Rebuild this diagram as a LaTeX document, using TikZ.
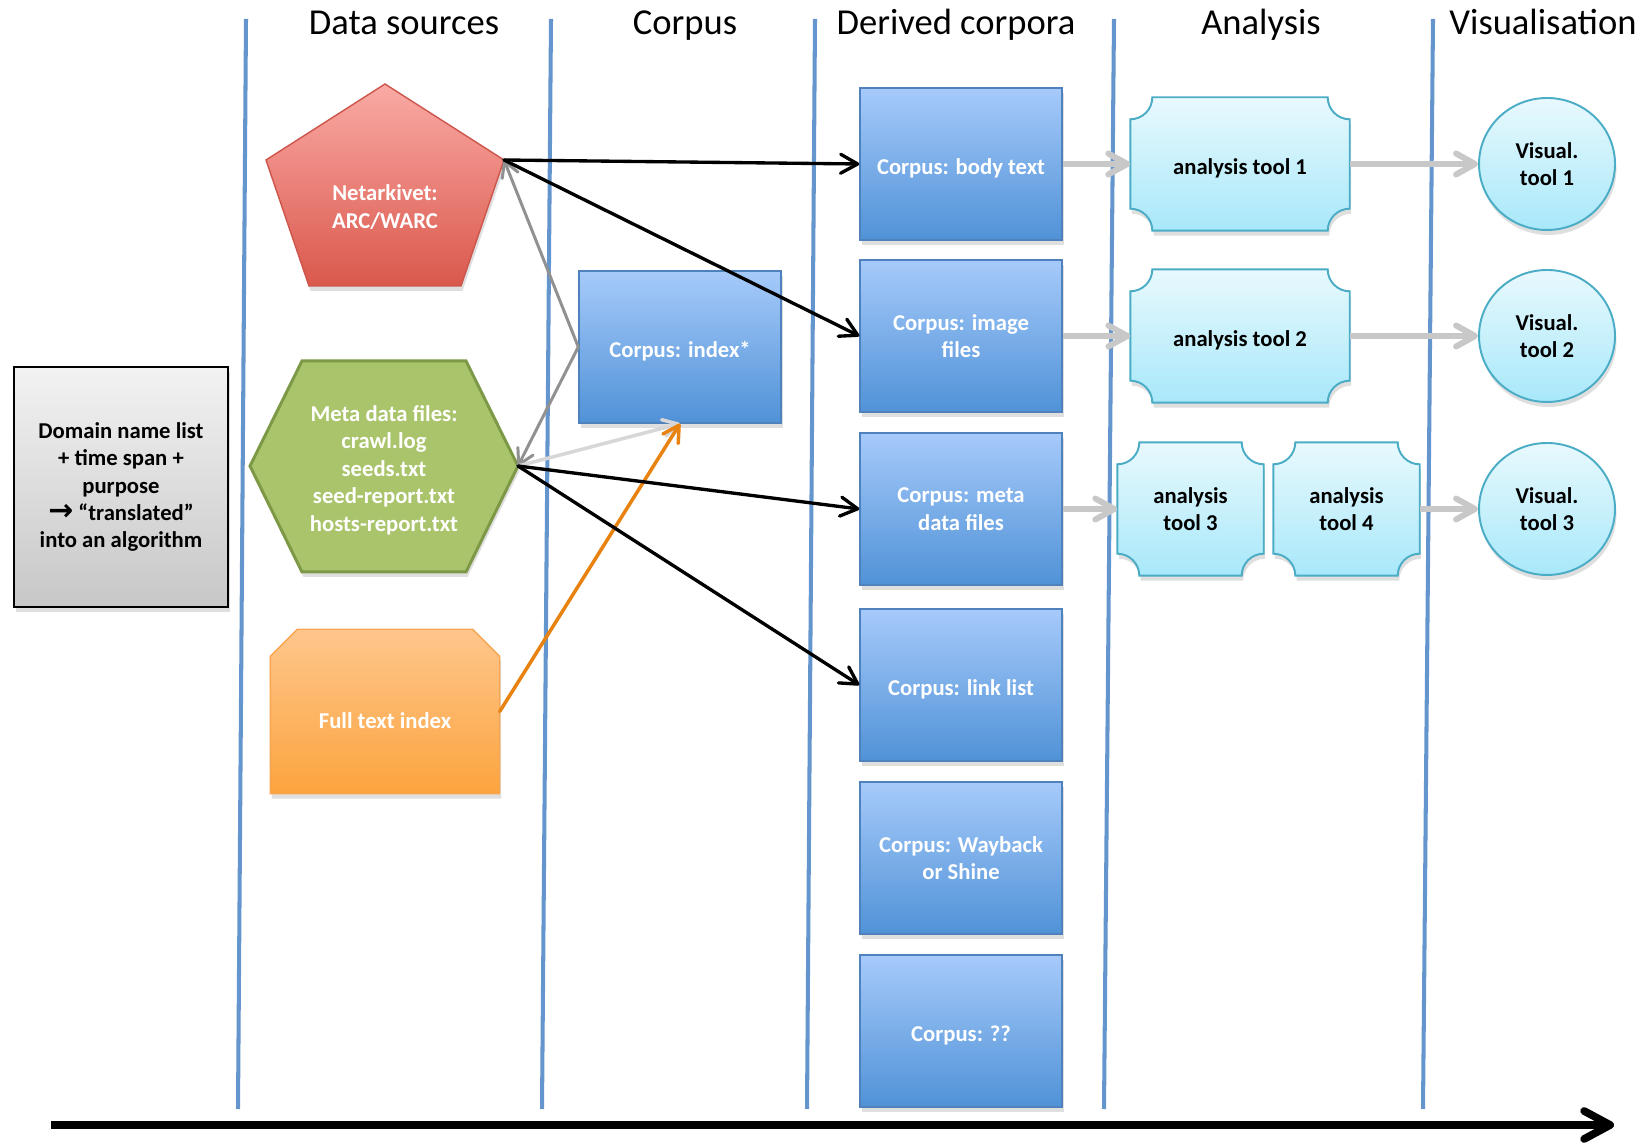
\documentclass[tikz,border=0pt]{standalone}
\usepackage{fontspec}
\setmainfont{Carlito}
\newfontfamily\arrowglyphs{DejaVu Sans}
\usepackage{tikz}
\usetikzlibrary{shapes.geometric,arrows.meta,shadows,backgrounds}

\definecolor{laneblue}{RGB}{100,150,205}
\definecolor{corpustop}{RGB}{166,202,250}
\definecolor{corpusbot}{RGB}{80,146,215}
\definecolor{corpusline}{RGB}{79,129,189}
\definecolor{nettop}{RGB}{250,170,165}
\definecolor{netbot}{RGB}{218,88,76}
\definecolor{netline}{RGB}{205,85,75}
\definecolor{metafill}{RGB}{170,196,108}
\definecolor{metaline}{RGB}{125,152,70}
\definecolor{ftitop}{RGB}{254,198,140}
\definecolor{ftibot}{RGB}{252,164,62}
\definecolor{ftiline}{RGB}{247,165,80}
\definecolor{tooltop}{RGB}{232,249,253}
\definecolor{toolbot}{RGB}{168,232,250}
\definecolor{toolline}{RGB}{75,172,198}
\definecolor{flowgray}{RGB}{200,200,200}
\definecolor{indexgray}{RGB}{145,145,145}
\definecolor{palegray}{RGB}{215,215,215}
\definecolor{ftiorange}{RGB}{232,130,16}

\begin{document}
\begin{tikzpicture}[
    boxfont/.style={font=\fontsize{6.45}{7.8}\selectfont\bfseries},
    lift/.style={execute at begin node={\rule{0pt}{#1}}},
    lift/.default=7.2pt,
    lane_title/.style={anchor=base, font=\fontsize{10.4}{12}\selectfont},
    lane/.style={draw=laneblue, line width=1.15pt},
    soft_shadow/.style={drop shadow={opacity=0.25, shadow xshift=0.15mm, shadow yshift=-0.5mm}},
    corpus/.style={rectangle, boxfont, lift, text=white, align=center, draw=corpusline, line width=0.4pt, top color=corpustop, bottom color=corpusbot, minimum width=2.02cm, minimum height=1.52cm, inner sep=0pt, soft_shadow},
    source_text/.style={boxfont, text=white, align=center, inner sep=0pt},
    net_shape/.style={draw=netline, line width=0.4pt, top color=nettop, bottom color=netbot, soft_shadow},
    meta_shape/.style={draw=metaline, line width=0.85pt, fill=metafill, soft_shadow},
    fulltext/.style={rectangle, boxfont, lift=9.7pt, text=white, minimum width=2.28cm, minimum height=1.63cm, inner sep=0pt},
    fti_shape/.style={draw=ftiline, line width=0.4pt, top color=ftitop, bottom color=ftibot, soft_shadow},
    domain_box/.style={rectangle, boxfont, lift, align=center, draw=black, line width=0.55pt, top color=black!5, bottom color=black!22, minimum width=2.14cm, minimum height=2.40cm, inner sep=0pt, soft_shadow},
    tool/.style={rectangle, boxfont, lift, align=center, minimum width=2.18cm, minimum height=1.32cm, inner sep=0pt},
    plaque/.style={draw=toolline, line width=0.55pt, top color=tooltop, bottom color=toolbot, soft_shadow},
    visual/.style={ellipse, boxfont, lift, align=center, draw=toolline, line width=0.55pt, top color=tooltop, bottom color=toolbot, minimum width=1.36cm, minimum height=1.32cm, inner sep=0pt, soft_shadow},
    feed_edge/.style={draw=black, line width=0.95pt, line cap=round, -{Straight Barb[length=1.7mm, width=1.9mm, round]}},
    index_edge/.style={draw=indexgray, line width=0.85pt, line cap=round, -{Straight Barb[length=1.5mm, width=1.7mm, round]}},
    pale_edge/.style={draw=palegray, line width=1pt, line cap=round, -{Straight Barb[length=1.5mm, width=1.7mm, round]}},
    orange_edge/.style={draw=ftiorange, line width=1pt, line cap=round, -{Straight Barb[length=1.6mm, width=1.8mm, round]}},
    flow_edge/.style={draw=flowgray, line width=1.7pt, -{Straight Barb[length=1.9mm, width=2.1mm, round]}},
    time_edge/.style={draw=black, line width=2.2pt, -{Straight Barb[length=2.6mm, width=2.8mm, round]}}
]
    \useasboundingbox (0, 0) rectangle (16.51, 11.46);

    % Lanes and their titles
    \foreach \xt/\xb in {2.46/2.38, 5.51/5.42, 8.15/8.07, 11.14/11.04, 14.33/14.23}
        \draw[lane] (\xt, 11.27) -- (\xb, 0.37);

    \node[lane_title] (t_sources) at (4.04, 11.11) {Data sources};
    \node[lane_title] (t_corpus) at (6.85, 11.11) {Corpus};
    \node[lane_title] (t_derived) at (9.56, 11.11) {Derived corpora};
    \node[lane_title] (t_analysis) at (12.61, 11.11) {Analysis};
    \node[lane_title] (t_visual) at (15.43, 11.11) {Visualisation};

    % Selection
    \node[domain_box] (selection) at (1.21, 6.59) {Domain name list\\+ time span +\\purpose\\{\arrowglyphs\bfseries\fontsize{8.5}{7.8}\selectfont →} “translated”\\into an algorithm};

    % Data sources
    \draw[net_shape] (3.85, 10.62) -- (5.04, 9.86) coordinate (net_corner) -- (4.61, 8.60) -- (3.09, 8.60) -- (2.66, 9.86) -- cycle;
    \node[source_text] (net) at (3.85, 9.39) {Netarkivet:\\ARC/WARC};

    \draw[meta_shape] (2.50, 6.80) -- (3.02, 7.85) -- (4.66, 7.85) -- (5.18, 6.80) coordinate (meta_corner) -- (4.66, 5.74) -- (3.02, 5.74) -- cycle;
    \node[source_text] (metafiles) at (3.84, 6.76) {Meta data files:\\crawl.log\\seeds.txt\\seed-report.txt\\hosts-report.txt};

    \node[fulltext] (fti) at (3.85, 4.345) {Full text index};

    % Corpus
    \node[corpus] (index) at (6.80, 7.99) {Corpus: index*};

    % Derived corpora
    \node[corpus] (body) at (9.61, 9.82) {Corpus: body text};
    \node[corpus] (image) at (9.61, 8.10) {Corpus: image\\files};
    \node[corpus] (meta) at (9.61, 6.37) {Corpus: meta\\data files};
    \node[corpus] (links) at (9.61, 4.61) {Corpus: link list};
    \node[corpus] (wayback) at (9.61, 2.88) {Corpus: Wayback\\or Shine};
    \node[corpus] (unknown) at (9.61, 1.15) {Corpus: ??};

    % Analysis
    \node[tool] (tool1) at (12.40, 9.82) {analysis tool 1};
    \node[tool] (tool2) at (12.40, 8.10) {analysis tool 2};
    \node[tool, minimum width=1.45cm] (tool3) at (11.905, 6.37) {analysis\\tool 3};
    \node[tool, minimum width=1.45cm] (tool4) at (13.465, 6.37) {analysis\\tool 4};

    \begin{scope}[on background layer]
        \draw[fti_shape] (fti.south west) -- ([yshift=-2.7mm]fti.north west) -- ([xshift=2.7mm]fti.north west)
            -- ([xshift=-2.7mm]fti.north east) -- ([yshift=-2.7mm]fti.north east) -- (fti.south east) -- cycle;
        \foreach \tn in {tool1, tool2, tool3, tool4}
            \draw[plaque] ([xshift=2.2mm]\tn.north west) -- ([xshift=-2.2mm]\tn.north east)
                arc[start angle=180, end angle=270, radius=2.2mm] -- ([yshift=2.2mm]\tn.south east)
                arc[start angle=90, end angle=180, radius=2.2mm] -- ([xshift=2.2mm]\tn.south west)
                arc[start angle=0, end angle=90, radius=2.2mm] -- ([yshift=-2.2mm]\tn.north west)
                arc[start angle=270, end angle=360, radius=2.2mm] -- cycle;
    \end{scope}

    % Visualisation
    \node[visual] (vis1) at (15.47, 9.82) {Visual.\\tool 1};
    \node[visual] (vis2) at (15.47, 8.10) {Visual.\\tool 2};
    \node[visual] (vis3) at (15.47, 6.37) {Visual.\\tool 3};

    % Index links
    \draw[index_edge] (index.west) -- (net_corner);
    \draw[index_edge] (index.west) -- (meta_corner);
    \draw[pale_edge] (meta_corner) -- (index.south);
    \draw[orange_edge] (fti.east) -- (index.south);

    % Sources into derived corpora
    \draw[feed_edge] (net_corner) -- (body.west);
    \draw[feed_edge] (net_corner) -- (image.west);
    \draw[feed_edge] (meta_corner) -- (meta.west);
    \draw[feed_edge] (meta_corner) -- (links.west);

    % Analysis chain
    \draw[flow_edge] (body.east) -- (tool1.west);
    \draw[flow_edge] (tool1.east) -- (vis1.west);
    \draw[flow_edge] (image.east) -- (tool2.west);
    \draw[flow_edge] (tool2.east) -- (vis2.west);
    \draw[flow_edge] (meta.east) -- (tool3.west);
    \draw[flow_edge] (tool4.east) -- (vis3.west);

    % Time
    \coordinate (t_start) at (0.51, 0.21);
    \coordinate (t_end) at (16.14, 0.21);
    \draw[time_edge] (t_start) -- (t_end);
\end{tikzpicture}
\end{document}
